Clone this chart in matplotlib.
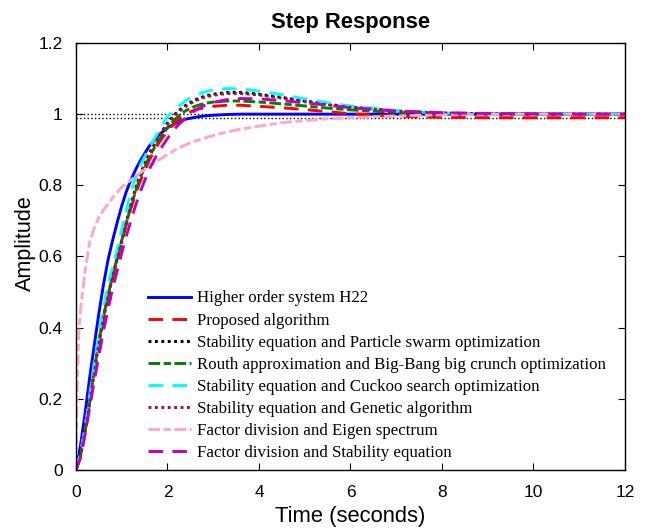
import numpy as np
import matplotlib
matplotlib.use('Agg')
import matplotlib.pyplot as plt

# time grid (s) shared by most responses
t = [0, 0.1, 0.2, 0.3, 0.4, 0.5, 0.6, 0.7, 0.8, 0.9, 1.0, 1.1, 1.2, 1.3, 1.4, 1.6, 1.8,
     2.0, 2.2, 2.4, 2.6, 2.8, 3.0, 3.3, 3.6, 4.0, 4.5, 5.0, 5.5, 6.0, 7.0,
     8.0, 9.0, 10.0, 11.0, 12.0]

h22 = [0, 0.07, 0.16, 0.26, 0.35, 0.44, 0.52, 0.59, 0.645, 0.695, 0.742, 0.782, 0.815,
       0.843, 0.868, 0.91, 0.94, 0.962, 0.976, 0.986, 0.991, 0.995, 0.997, 0.999, 1.0,
       1.0, 1.0, 1.0, 1.0, 1.0, 1.0, 1.0, 1.0, 1.0, 1.0, 1.0]
proposed = [0, 0.04, 0.11, 0.19, 0.27, 0.35, 0.42, 0.485, 0.54, 0.59, 0.64, 0.69, 0.735,
            0.775, 0.81, 0.87, 0.917, 0.953, 0.98, 1.0, 1.012, 1.018, 1.022, 1.025, 1.025,
            1.022, 1.018, 1.013, 1.007, 1.001, 0.994, 0.991, 0.99, 0.99, 0.99, 0.99]
se_pso = [0, 0.04, 0.11, 0.19, 0.28, 0.36, 0.43, 0.49, 0.545, 0.595, 0.645, 0.697, 0.745,
          0.79, 0.83, 0.89, 0.935, 0.975, 1.005, 1.025, 1.04, 1.05, 1.056, 1.061, 1.061,
          1.056, 1.047, 1.037, 1.028, 1.02, 1.009, 1.003, 1.001, 1.0, 1.0, 1.0]
routh_bbbc = [0, 0.04, 0.11, 0.19, 0.28, 0.36, 0.43, 0.49, 0.545, 0.595, 0.645, 0.694, 0.74,
              0.782, 0.82, 0.88, 0.925, 0.962, 0.99, 1.01, 1.022, 1.03, 1.034, 1.037, 1.037,
              1.034, 1.029, 1.023, 1.017, 1.012, 1.005, 1.002, 1.0, 1.0, 1.0, 1.0]
se_cuckoo = [0, 0.05, 0.12, 0.21, 0.3, 0.38, 0.455, 0.52, 0.57, 0.62, 0.675, 0.73, 0.78,
             0.82, 0.855, 0.905, 0.95, 0.993, 1.018, 1.038, 1.052, 1.062, 1.068, 1.072,
             1.071, 1.065, 1.055, 1.043, 1.032, 1.023, 1.01, 1.003, 1.001, 1.0, 1.0, 1.0]
se_ga = [0, 0.04, 0.11, 0.19, 0.275, 0.355, 0.425, 0.487, 0.542, 0.592, 0.642, 0.694, 0.742,
         0.786, 0.826, 0.887, 0.932, 0.972, 1.002, 1.022, 1.037, 1.047, 1.053, 1.058, 1.058,
         1.054, 1.045, 1.035, 1.026, 1.019, 1.008, 1.003, 1.001, 1.0, 1.0, 1.0]
fd_stab = [0, 0.035, 0.1, 0.175, 0.25, 0.32, 0.39, 0.45, 0.51, 0.56, 0.61, 0.657, 0.7,
           0.742, 0.78, 0.845, 0.893, 0.932, 0.965, 0.99, 1.01, 1.024, 1.033, 1.041, 1.044,
           1.043, 1.038, 1.032, 1.025, 1.018, 1.009, 1.004, 1.002, 1.001, 1.0, 1.0]

# eigen spectrum model has a much faster initial jump
t_pink = [0, 0.03, 0.06, 0.1, 0.2, 0.3, 0.4, 0.5, 0.6, 0.8, 1.0, 1.2, 1.4, 1.6, 1.8,
          2.0, 2.2, 2.4, 2.6, 2.8, 3.0, 3.3, 3.6, 4.0, 4.5, 5.0, 5.5, 6.0, 7.0,
          8.0, 9.0, 10.0, 11.0, 12.0]
fd_eigen = [0, 0.25, 0.38, 0.45, 0.56, 0.64, 0.68, 0.71, 0.73, 0.765, 0.795, 0.815,
            0.835, 0.853, 0.87, 0.887, 0.902, 0.914, 0.924, 0.932, 0.94, 0.95, 0.958,
            0.966, 0.976, 0.982, 0.987, 0.99, 0.995, 0.998, 0.999, 1.0, 1.0, 1.0]

steady = [1.0, 0.99]

labels = ['Higher order system H22',
          'Proposed algorithm',
          'Stability equation and Particle swarm optimization',
          'Routh approximation and Big-Bang big crunch optimization',
          'Stability equation and Cuckoo search optimization',
          'Stability equation and Genetic algorithm',
          'Factor division and Eigen spectrum',
          'Factor division and Stability equation']

plt.rcParams['font.family'] = ['Liberation Sans', 'DejaVu Sans']

fig = plt.figure(figsize=(6.46, 5.30), dpi=100)
ax = fig.add_axes([0.1176, 0.1132, 0.8499, 0.8057])

for s in steady:
    ax.plot([0, 12], [s, s], color='k', ls=':', lw=1.0)

lw = 2.1
dash = (0, (5, 3.2))
dashdot = (0, (4, 1.2, 2.5, 1.2))
dots = (0, (1, 1.2))
ax.plot(t, h22, color='#0000FF', ls='-', lw=lw, label=labels[0])
ax.plot(t, proposed, color='#FF0000', ls=dash, lw=lw, label=labels[1])
ax.plot(t, se_pso, color='k', ls=dots, lw=lw, label=labels[2])
ax.plot(t, routh_bbbc, color='#008000', ls=dashdot, lw=lw, label=labels[3])
ax.plot(t, se_cuckoo, color='#00FFFF', ls=dash, lw=lw, label=labels[4])
ax.plot(t, se_ga, color='#A0143C', ls=dots, lw=lw, label=labels[5])
ax.plot(t_pink, fd_eigen, color='#FFA6C9', ls=dashdot, lw=lw, label=labels[6])
ax.plot(t, fd_stab, color='#BF00BF', ls=dash, lw=lw, label=labels[7])

ax.set_xlim(0, 12)
ax.set_ylim(0, 1.2)
ax.set_xticks(np.arange(0, 13, 2))
ax.set_yticks([0, 0.2, 0.4, 0.6, 0.8, 1.0, 1.2])
ax.set_yticklabels(['0', '0.2', '0.4', '0.6', '0.8', '1', '1.2'])
ax.tick_params(direction='in', top=True, right=True, length=5, width=0.8,
               labelsize=12.5)
ax.tick_params(axis='x', pad=11)
ax.tick_params(axis='y', pad=9.5)
for sp in ax.spines.values():
    sp.set_linewidth(1.0)

ax.set_xlabel('Time (seconds)', fontsize=15.8, labelpad=4)
ax.set_ylabel('Amplitude', fontsize=15.5)
ax.yaxis.set_label_coords(-0.072, 0.532)
ax.set_title('Step Response', fontsize=15.8, fontweight='bold', pad=11)

ax.legend(loc='lower left', bbox_to_anchor=(0.109, -0.007), frameon=False,
          prop={'family': 'Liberation Serif', 'size': 12.2},
          handlelength=2.55, handletextpad=0.35, labelspacing=0.36,
          borderpad=0.2)

fig.savefig('out.png', dpi=100)
